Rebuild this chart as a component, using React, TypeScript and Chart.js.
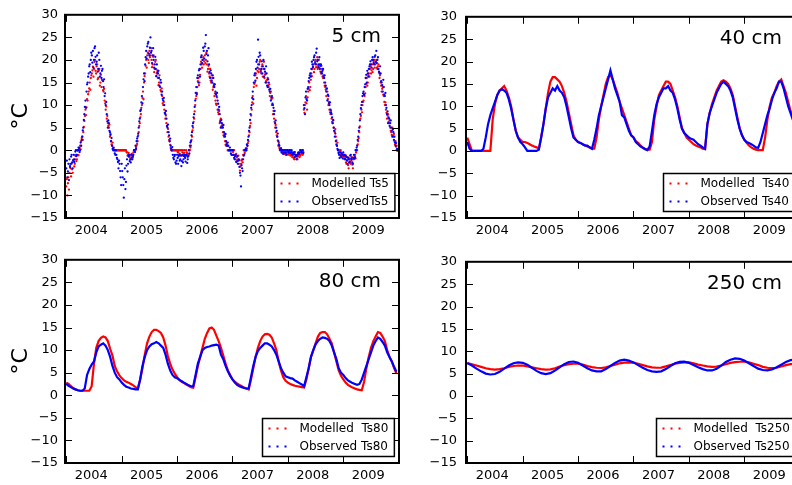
import React, { useEffect, useRef } from 'react';
import { Chart, registerables } from 'chart.js';

Chart.register(...registerables);

const FONT = '"DejaVu Sans", "Liberation Sans", sans-serif';

const X_MIN = 2003.977;
const X_MAX = 2010.005;
const YEAR_LABELS = ['2004', '2005', '2006', '2007', '2008', '2009'];
const YEAR_MARKS = [2004, 2005, 2006, 2007, 2008, 2009, 2010];
const Y_MIN = -15;
const Y_MAX = 30;
const Y_STEP = 5;

// ---- 5 cm, weekly samples (52 per year, from Jan 2004) ----
const TS5_MODELLED = [
  -8, -10, -6, -5, -4, -3, -5, -2, -3, -1, -2, 0, 0, 1, 2, 3, 4, 6.5, 9, 9.5, 11, 13, 15, 16, 17, 18.5, 18, 20, 17, 19, 16, 18, 15, 14, 15.5, 13, 11, 9, 7, 6, 5, 3, 2, 1, 0.5, 0, 0, 0, 0, 0, 0, 0,
  0, 0, 0, 0, 0, -0.5, -1, -1.5, -1, -2, -1, -0.5, 0, 0, 1, 2, 4, 6, 8, 10, 13, 15, 17, 20, 21, 20, 22, 21, 20, 19, 21, 18, 20, 17, 16, 15, 15, 13, 12, 10, 9, 7, 6, 4, 3, 2, 0.5, 0, 0, 0, 0, 0,
  0, -0.5, 0, -1, 0, -0.5, -1, 0, -1, -0.5, -1.5, -1, 0, 1, 3, 5, 7, 10, 12, 14, 16, 15, 18, 19, 20, 19, 21, 20, 19, 18, 17, 18, 15, 16, 14, 12, 11, 10, 9, 8, 6, 7, 5, 4, 3, 2, 1, 1, 0, 0, 0, 0,
  0, -1, -1, -2, -1.5, -2, -3, -4.5, -3, -2, -1, 0, 0, 0, 1, 2, 4, 6, 9, 12, 14, 15, 17, 16, 19, 18, 20, 17, 19, 18, 16, 17, 15, 16, 14, 12, 13, 10, 8, 7, 5, 4, 3, 1, 0.5, 0, 0, -0.5, 0, -0.5, -1, 0,
  -0.5, -1, -0.5, -1, -1.5, -1, -2, -1.5, -1, -2, -1, -1.5, -1, -0.5, -1, 9, 10, 12, 9, 13, 15, 14, 17, 18, 19, 18, 20, 19, 18, 20, 19, 17, 18, 16, 15, 14, 12, 13, 10, 9, 8, 7, 6, 5, 4, 3, 1, 0, 0, -1, -0.5, -1,
  -1, -2, -1, -3, -1.5, -4, -2, -3, -1.5, -4, -2, -1, -0.5, 0, 2, 4, 7, 9, 10, 11, 12, 14, 16, 15, 17, 18, 17, 19, 18, 20, 19, 20, 18, 19, 16, 15, 13, 14, 12, 10, 9, 7, 8, 6, 5, 4, 5, 3, 2, 2, 1, 0,
];
// mid-week samples of the same cloud
const TS5_MODELLED_MID = [
  -6.4, -7.3, -8.7, -3.4, -5.8, -4.2, -2.3, -3.6, -1.2, -2.4, 0, -1.1, 0.5, 0.2, 2.7, 2.3, 5.2, 7.6, 7.8, 11.3, 12.4, 13.7, 13.4, 16.6, 17.7, 16.3, 19.6, 17.6, 18.6, 15.7, 17.6, 14.3, 16.7, 15.6, 13.3, 13.6, 10.4, 9.7, 7.6, 5.4, 5.7, 3.6, 1.3, 1.7, 0.2, 0, 0, 0, 0, 0, 0, 0,
  0, 0, 0, 0, -0.4, -1.2, -0.6, -1.3, -1.8, -0.8, -1.6, 0, 0, 0.6, 1.4, 3.3, 5.4, 7.3, 9.4, 11.6, 11.3, 16.4, 18.7, 18.3, 21.6, 19.3, 20.6, 22.6, 18.4, 20.7, 17.3, 19.6, 16.4, 17.7, 14.4, 16.6, 13.3, 13.7, 10.4, 10.7, 8.3, 7.7, 5.3, 4.7, 2.3, 1.2, 0, 0, 0, 0, 0, 0,
  -0.4, 0, -0.8, 0, -1.2, 0, -0.6, -1.3, 0, -0.7, -1.2, 0, 0.6, 2.3, 4.4, 6.3, 8.6, 11.4, 12.7, 15.3, 14.4, 16.7, 19.6, 18.3, 20.6, 19.7, 19.3, 21.6, 17.4, 18.7, 16.3, 15.4, 16.6, 13.4, 14.7, 12.6, 10.3, 11.7, 8.4, 8.7, 6.6, 5.3, 5.6, 3.3, 3.7, 1.2, 1.6, 0, 0, 0, 0, 0,
  -0.4, 0, -1.3, -0.8, -2.3, -1.2, -2.2, -3.6, -2.3, -2.7, 0, -0.6, 0, 0.4, 1.6, 3.3, 5.4, 7.7, 10.6, 10.3, 14.7, 16.6, 14.3, 17.6, 17.3, 19.6, 17.7, 18.6, 16.3, 19.6, 16.7, 15.3, 15.6, 14.3, 14.6, 12.7, 11.3, 11.6, 8.7, 6.3, 5.6, 3.3, 2.2, 1.7, 0, 0.4, -0.4, 0, -0.8, 0, -0.6, -0.4,
  -0.8, -0.6, -1.2, -0.4, -1.1, -1.8, -0.9, -1.2, -1.8, -1.4, -0.9, -1.2, -0.6, -0.8, -0.4, 8.3, 10.6, 10.4, 11.7, 13.6, 13.3, 15.6, 16.4, 18.6, 17.3, 19.7, 18.4, 20.6, 18.7, 18.3, 17.4, 18.7, 16.3, 16.6, 14.3, 13.4, 13.6, 11.3, 10.7, 8.4, 8.7, 6.3, 6.6, 4.3, 4.7, 2.2, 1.7, 0, -0.4, 0, -0.9, -1.4,
  -1.4, -1.1, -2.7, -2.2, -3.3, -1.8, -2.8, -2.3, -3.2, -1.7, -1.2, -1.8, 0, 1.3, 2.7, 5.3, 7.6, 8.4, 10.7, 12.3, 12.6, 14.7, 14.3, 16.6, 16.3, 18.6, 17.7, 17.3, 19.6, 18.3, 19.4, 18.3, 18.6, 17.3, 16.6, 14.3, 13.6, 12.3, 10.7, 10.6, 8.3, 7.7, 6.3, 6.6, 4.3, 3.4, 3.2, 3.6, 1.3, 0.8, 0, 0,
];
const TS5_OBSERVED = [
  -4, -6, -3, -2, -3, -1, -4, -1, -2, 0, -1, 0, 0.5, 0, 1, 3, 5, 8, 11, 13, 15, 17, 19, 20, 21, 22, 20, 23, 19, 21, 18, 20, 17, 16, 18, 14, 12, 10, 8, 5, 6, 4, 2, 1, 0, 0, -1, -1, -2, -4, -3, -6,
  -3, -6, -10.5, -4, -7, -2, -3, -1, -2, -1, -2, -1, 0, 1, 2, 3, 5, 7, 9, 12, 14, 17, 19, 22, 23, 24, 21, 25, 22, 21, 20, 19, 18, 19, 17, 16, 14, 15, 13, 11, 10, 8, 7, 5, 4, 2, 1, 0, -1, -2, -1, -3,
  -1, -3, -1, -2, -3.5, -1, -2, -1, -2.5, -1, -2, 0, 1, 2, 4, 6, 8, 11, 14, 16, 15, 18, 19, 21, 20, 22, 23, 25.5, 22, 21, 19, 16, 17, 15, 16, 14, 13, 12, 11, 9, 8, 5, 6, 5, 4, 3, 2, 1, 1, 0, 0, -1,
  -1, -1, -2, -1, -2.5, -3, -2, -5, -8, -4, -2, -1, 0, 0, 1, 3, 5, 8, 10, 13, 15, 17, 18, 20, 24.5, 19, 21, 18, 17, 20, 18, 15, 17, 14, 15, 13, 11, 12, 10, 8, 6, 5, 3, 2, 1, 0, -0.5, 0, -0.5, 0, -0.5, -1,
  0, -0.5, 0, -0.5, -1, -0.5, -1.5, -1, -2, -1, -0.5, -0.5, 0, -0.5, 0, 10, 8, 13, 11, 14, 16, 17, 18, 19, 20, 21, 19, 22.5, 20, 19, 18, 19, 17, 18, 16, 15, 13, 11, 12, 10, 9, 8, 6, 5, 3, 2, 1, 0, -1, -0.5, -1.5, -1,
  -0.5, -1, -2, -1.5, -3, -2, -2.5, -1, -2, -3, -1, -1.5, 0, 1, 3, 5, 8, 10, 12, 13, 14, 16, 15, 17, 18, 19, 19, 20, 20, 19, 21, 22, 20, 18, 17, 17, 15, 13, 14, 12, 10, 8, 6, 7, 6, 5, 3, 4, 3, 1, 0, 0,
];
const TS5_OBSERVED_MID = [
  -2.3, -4.7, -6.6, -3.7, -1.4, -2.7, -2.2, -2.6, -0.3, -1.3, 0, 0.6, -0.4, 1.7, 2.3, 4.4, 6.7, 9.6, 9.4, 14.6, 16.3, 18.6, 17.3, 21.6, 19.4, 18.3, 22.6, 20.7, 19.6, 17.4, 21.6, 16.3, 18.7, 17.6, 15.3, 15.7, 12.6, 10.7, 6.4, 6.6, 4.3, 3.4, 2.7, 0.3, 0.6, -0.7, 0, -1.7, -2.6, -2.3, -4.6, -7.7,
  -4.6, -7.7, -6.4, -8.6, -3.4, -4.7, -1.3, -2.4, -2.7, -1.6, -1.3, 0, -0.4, 0.3, 2.6, 3.7, 6.4, 8.7, 10.6, 10.4, 15.7, 15.3, 20.6, 20.3, 23.6, 21.4, 22.7, 21.6, 19.3, 22.6, 18.3, 20.7, 16.4, 17.3, 17.6, 14.3, 15.6, 12.3, 11.4, 11.6, 8.3, 8.7, 5.4, 5.7, 3.3, 2.6, 0.3, 0.7, -1.7, -1.3, -2.7, -2.3,
  -1.7, -1.3, -2.3, -1.2, -2.4, -2.7, -1.3, -1.7, -1.2, -2.8, -1.3, -0.7, 1.7, 3.3, 5.4, 7.3, 9.6, 12.7, 12.4, 16.6, 17.7, 16.3, 20.6, 19.3, 22.7, 20.3, 23.6, 21.3, 19.7, 22.6, 17.3, 17.7, 15.4, 16.6, 14.3, 14.6, 12.4, 12.7, 10.3, 9.6, 6.3, 6.7, 5.3, 5.6, 3.3, 3.6, 1.3, 1.7, 0, 0.6, -0.7, 0,
  0, -1.7, -1.3, -2.6, -1.3, -2.3, -3.7, -5.6, -3.3, -4.6, -1.2, 0, 0.4, 1.3, 2.3, 4.3, 6.7, 9.4, 11.6, 11.3, 16.6, 15.4, 19.6, 18.3, 20.7, 21.6, 17.4, 19.7, 18.6, 16.3, 17.4, 18.6, 14.3, 15.7, 13.4, 13.6, 11.7, 10.3, 9.4, 8.7, 6.6, 4.3, 3.7, 1.3, 0.2, 0.4, 0, -0.8, 0, -0.6, 0, 0,
  -0.4, 0, -0.6, 0, -0.7, -0.8, -0.4, -1.3, -1.2, -0.6, -0.8, 0, -0.4, 0, -0.6, 9.3, 11.7, 11.3, 13.6, 15.3, 16.6, 16.3, 19.6, 18.4, 20.6, 19.3, 21.6, 19.7, 18.4, 20.6, 18.7, 17.3, 17.6, 16.4, 16.6, 14.3, 13.7, 12.3, 10.4, 10.6, 8.3, 7.3, 6.7, 4.3, 3.7, 1.3, 0.3, -0.6, -1.7, -1.2, -0.7, -1.8,
  -1.2, -1.8, -1.3, -2.3, -1.7, -2.7, -1.2, -1.8, -2.7, -1.7, -1.8, 0, 0.6, 2.3, 4.3, 6.6, 9.3, 10.7, 12.6, 12.3, 14.6, 16.7, 17.6, 16.3, 18.6, 19.7, 18.3, 20.6, 19.3, 20.7, 19.6, 19.3, 20.6, 17.4, 18.6, 15.3, 14.4, 15.6, 12.3, 12.7, 9.4, 8.6, 7.3, 5.4, 6.6, 4.3, 4.6, 2.3, 1.7, 1.6, 0.3, 0,
];

// ---- 40 cm, twice-monthly samples (24 per year) ----
const TS40_MODELLED = [
  3, 1.5, 0, 0, 0, 0, 0, 0, 0, 0, 0, 7, 10.5, 12.5, 13.5, 14, 14.5, 13.5, 12, 10, 7, 4.5, 3, 2.5,
  2, 2, 1.8, 1.5, 1.2, 1, 0.8, 0.5, 3, 6, 9.5, 13, 15.5, 16.5, 16.5, 16, 15.5, 14.5, 13, 11, 8.5, 6, 3.5, 2.5,
  2, 1.8, 1.5, 1.3, 1, 0.8, 0.5, 0.5, 3, 7, 10, 12.5, 15, 16.5, 17, 16, 14.5, 13, 11, 9.5, 8, 6.5, 5, 3.5,
  3, 2.2, 1.8, 1.2, 0.8, 0.5, 0.3, 0.3, 2, 7, 10, 12.5, 13.5, 14.5, 15.5, 15.5, 15, 13.5, 12, 10, 7.5, 5, 4, 3,
  2.5, 2, 1.5, 1.2, 1, 0.8, 0.5, 0.4, 6, 8.5, 10.5, 12, 13.5, 14.5, 15.5, 15.8, 15.5, 15, 14, 12.5, 10, 7.5, 5, 3.5,
  2.5, 1.8, 1.2, 0.8, 0.5, 0.3, 0.2, 0.2, 0.2, 3, 7, 10, 12, 13, 14.5, 15.5, 16, 14.5, 13, 11, 9, 7.5, 6.5, 6,
];
const TS40_OBSERVED = [
  2, 0.5, 0, 0, 0, 0, 0, 0.5, 3, 6, 8, 9.5, 11, 12.5, 13.5, 13.8, 13.5, 13, 11.5, 9.5, 7, 4.5, 3, 2,
  1.5, 0.8, 0, 0, 0, 0, 0, 0.3, 3, 6, 9.5, 12, 13, 14, 13.5, 14.5, 13.5, 13, 12, 10, 7.5, 5, 3, 2.5,
  2, 1.8, 1.5, 1.2, 1.2, 0.8, 0.5, 2.5, 5, 8, 10, 12, 14, 16, 18, 16, 14, 12.5, 11, 8, 7.5, 6, 4.5, 3.5,
  3, 2, 1.5, 1, 0.7, 0.4, 0.2, 1, 4.5, 8, 10.5, 12, 13, 14, 14, 14.5, 13.5, 13, 11.5, 9.5, 7, 5, 4, 3.5,
  3, 2.7, 2.5, 2, 1.5, 1.2, 0.8, 0.5, 6, 8.5, 10, 11.5, 13, 14, 15, 15.5, 15, 14.5, 13.5, 12, 9.5, 7, 5, 3.5,
  2.5, 2, 1.8, 1.5, 1.2, 0.8, 0.7, 2, 4, 6, 8, 9.5, 11.5, 13, 14, 15.5, 15.5, 14, 12, 10, 8.5, 7, 6.5, 6,
];

// ---- 80 cm, twice-monthly samples (24 per year) ----
const TS80_MODELLED = [
  2.8, 2.5, 2, 1.6, 1.3, 1.1, 1, 1, 1, 1, 1, 2, 7, 10.5, 12, 12.7, 13, 12.8, 12, 10.3, 8.8, 6.5, 5.3, 4.4,
  3.8, 3.3, 3, 2.8, 2.5, 2.2, 1.8, 1.5, 3.5, 6, 9, 11.5, 13, 14, 14.5, 14.5, 14.2, 13.8, 12.8, 11, 8.7, 7, 5.7, 4.8,
  4, 3.4, 3, 2.7, 2.4, 2.1, 1.8, 1.7, 4, 6.5, 8.5, 10.5, 12.5, 13.8, 14.8, 15, 14.5, 13.2, 12, 10.5, 8.8, 7, 5.5, 4.5,
  3.5, 3, 2.6, 2.3, 2, 1.7, 1.5, 1.3, 3.5, 6, 8.5, 10.5, 12, 13, 13.5, 13.6, 13.4, 12.8, 11.5, 10, 7.5, 5.5, 4, 3.2,
  2.8, 2.5, 2.3, 2.1, 2, 1.9, 1.8, 1.7, 3.5, 6, 8.5, 10, 11.5, 13, 13.8, 14, 14, 13.5, 12.5, 11.5, 9.5, 7.5, 5.5, 4.3,
  3.5, 2.8, 2.3, 2, 1.7, 1.5, 1.3, 1.2, 1.1, 3, 6, 8.5, 10.5, 12, 13, 14, 13.8, 13, 12, 10, 8.5, 7.5, 6, 4.8,
];
const TS80_OBSERVED = [
  2.5, 2.1, 1.8, 1.5, 1.3, 1.1, 1, 1, 1.5, 4.5, 5.8, 6.8, 7.5, 9.5, 10.8, 11.2, 11.5, 11, 10, 8.5, 6.5, 5, 4, 3.5,
  2.8, 2.3, 1.9, 1.7, 1.5, 1.4, 1.3, 1.3, 3.5, 6.5, 8.5, 10, 10.8, 11.3, 11.5, 11.8, 11.5, 11, 10.5, 9, 7, 5.5, 4.5, 4,
  3.8, 3.4, 3.1, 2.8, 2.5, 2.2, 2, 2, 4.5, 7, 8.5, 10, 10.5, 10.7, 10.8, 11, 11.1, 11.2, 11, 9, 8, 6.5, 5.3, 4.3,
  3.5, 2.8, 2.3, 2, 1.8, 1.6, 1.5, 1.5, 4, 6.5, 8.5, 9.8, 10.5, 11, 11.5, 11.5, 11.2, 10.8, 10, 9, 7.5, 6, 5, 4.2,
  4, 3.8, 3.7, 3.3, 3, 2.7, 2.4, 2, 4, 6, 8.5, 10, 11.3, 12, 12.5, 12.8, 12.7, 12.5, 12, 11, 9.5, 8, 6, 5,
  4.5, 3.8, 3.3, 3, 2.7, 2.5, 2.3, 2.5, 3.5, 5, 6.5, 8, 9.5, 11, 12, 12.8, 12.5, 11.8, 11, 9.5, 8.5, 7.5, 6.3, 5.2,
];

// ---- 250 cm, monthly samples (12 per year) ----
const TS250_MODELLED = [
  7.35, 7.1, 6.8, 6.5, 6.2, 6.0, 5.9, 6.0, 6.2, 6.5, 6.7, 6.8,
  6.8, 6.6, 6.4, 6.2, 6.0, 5.9, 5.95, 6.2, 6.6, 6.9, 7.1, 7.2,
  7.2, 7.0, 6.7, 6.45, 6.3, 6.25, 6.4, 6.7, 7.0, 7.3, 7.45, 7.5,
  7.45, 7.2, 6.9, 6.6, 6.4, 6.3, 6.35, 6.6, 6.9, 7.2, 7.4, 7.5,
  7.5, 7.3, 7.0, 6.8, 6.6, 6.5, 6.55, 6.8, 7.1, 7.4, 7.55, 7.65,
  7.65, 7.5, 7.2, 6.9, 6.5, 6.3, 6.2, 6.3, 6.6, 6.9, 7.1, 7.2, 7.2,
];
const TS250_OBSERVED = [
  7.35, 6.8, 6.1, 5.5, 5.0, 4.8, 4.9, 5.4, 6.1, 6.8, 7.3, 7.5,
  7.4, 7.0, 6.3, 5.6, 5.1, 4.9, 5.1, 5.7, 6.4, 7.1, 7.6, 7.7,
  7.4, 6.8, 6.2, 5.7, 5.5, 5.5, 6.0, 6.7, 7.4, 7.9, 8.1, 7.9,
  7.5, 6.9, 6.3, 5.8, 5.5, 5.4, 5.5, 6.0, 6.7, 7.3, 7.6, 7.65,
  7.4, 6.9, 6.4, 6.0, 5.7, 5.7, 6.1, 6.8, 7.6, 8.1, 8.4, 8.3,
  7.9, 7.3, 6.7, 6.1, 5.8, 5.7, 5.9, 6.4, 7.0, 7.6, 8.0, 8.1, 8.1,
];

const RED = '#ff0000';
const BLUE = '#0000ff';

function toPoints(values: number[], perYear: number, shift = 0) {
  return values.map((v, i) => ({ x: 2004 + (i + shift) / perYear, y: v }));
}

type LegendItem = { label: string; color: string };

const framePlugin = {
  id: 'mplFrame',
  afterDraw(chart: any, _args: any, opts: any) {
    const { ctx, chartArea: a, scales } = chart;
    const xs = scales.x;
    const ys = scales.y;
    ctx.save();
    ctx.strokeStyle = '#000';
    ctx.lineWidth = 1;
    ctx.beginPath();
    YEAR_MARKS.forEach((yr) => {
      const px = Math.round(xs.getPixelForValue(yr)) + 0.5;
      if (px <= a.left + 1 || px >= a.right - 1) return;
      ctx.moveTo(px, a.bottom);
      ctx.lineTo(px, a.bottom - 7);
      ctx.moveTo(px, a.top);
      ctx.lineTo(px, a.top + 7);
    });
    for (let v = Y_MIN + Y_STEP; v < Y_MAX; v += Y_STEP) {
      const py = Math.round(ys.getPixelForValue(v)) + 0.5;
      ctx.moveTo(a.left, py);
      ctx.lineTo(a.left + 7, py);
      ctx.moveTo(a.right, py);
      ctx.lineTo(a.right - 7, py);
    }
    ctx.stroke();
    ctx.lineWidth = 2;
    ctx.strokeRect(a.left, a.top, a.right - a.left, a.bottom - a.top);
    ctx.fillStyle = '#000';
    ctx.font = `20px ${FONT}`;
    ctx.textAlign = 'right';
    ctx.textBaseline = 'alphabetic';
    ctx.fillText(opts.title, a.right - 18, a.top + 27);
    const items: LegendItem[] = opts.legend;
    ctx.font = `12px ${FONT}`;
    const tw = Math.max(...items.map((it) => ctx.measureText(it.label).width));
    const bw = 37 + tw + 6;
    const bh = 38;
    const bx = Math.round(a.right - 5 - bw) + 0.5;
    const by = Math.round(a.bottom - 7 - bh) + 0.5;
    ctx.fillStyle = '#fff';
    ctx.fillRect(bx, by, bw, bh);
    ctx.lineWidth = 1.5;
    ctx.strokeStyle = '#000';
    ctx.strokeRect(bx, by, bw, bh);
    items.forEach((it, i) => {
      const cy = by + 10 + i * 18;
      ctx.fillStyle = it.color;
      [7, 15, 23].forEach((dx) => {
        ctx.fillRect(bx + dx - 1, cy - 1, 2, 2);
      });
      ctx.fillStyle = '#000';
      ctx.textAlign = 'left';
      ctx.textBaseline = 'middle';
      ctx.fillText(it.label, bx + 37, cy);
    });
    ctx.restore();
  },
};

type PanelProps = {
  left: number;
  top: number;
  width: number;
  height: number;
  area: { l: number; t: number; r: number; b: number };
  title: string;
  legend: LegendItem[];
  showYTitle: boolean;
  scatter: boolean;
  modelled: { x: number; y: number }[];
  observed: { x: number; y: number }[];
};

function Panel(p: PanelProps) {
  const ref = useRef<HTMLCanvasElement | null>(null);
  useEffect(() => {
    if (!ref.current) return;
    const mk = (data: any[], color: string) =>
      p.scatter
        ? {
            data,
            showLine: false,
            pointRadius: 1.15,
            pointBorderWidth: 0,
            pointBackgroundColor: color,
            borderColor: color,
          }
        : {
            data,
            borderColor: color,
            borderWidth: 2.2,
            pointRadius: 0,
            tension: 0,
            fill: false,
          };
    const chart = new Chart(ref.current, {
      type: 'line',
      data: {
        datasets: [mk(p.observed, BLUE), mk(p.modelled, RED)],
      },
      plugins: [framePlugin as any],
      options: {
        animation: false,
        responsive: false,
        events: [],
        layout: {
          padding: { left: 0, top: p.area.t, right: p.width - p.area.r, bottom: 0 },
        },
        plugins: {
          legend: { display: false },
          tooltip: { enabled: false },
          mplFrame: { title: p.title, legend: p.legend },
        } as any,
        scales: {
          x: {
            type: 'linear',
            min: X_MIN,
            max: X_MAX,
            grid: { display: false, drawTicks: false },
            border: { display: false },
            afterBuildTicks: (s: any) => {
              s.ticks = YEAR_LABELS.map((l) => ({ value: Number(l) + 0.45 }));
            },
            afterFit: (s: any) => {
              s.height = p.height - p.area.b;
            },
            ticks: {
              autoSkip: false,
              maxRotation: 0,
              minRotation: 0,
              padding: 5,
              color: '#000',
              font: { size: 13, family: FONT },
              callback: (v: any) => String(Math.floor(Number(v))),
            },
          },
          y: {
            type: 'linear',
            min: Y_MIN,
            max: Y_MAX,
            grid: { display: false, drawTicks: false },
            border: { display: false },
            afterFit: (s: any) => {
              s.width = p.area.l;
            },
            ticks: {
              stepSize: Y_STEP,
              autoSkip: false,
              padding: p.showYTitle ? 7 : 9,
              color: '#000',
              font: { size: 13, family: FONT },
              callback: (v: any) => (Number(v) < 0 ? '\u2212' + Math.abs(Number(v)) : String(v)),
            },
            title: {
              display: p.showYTitle,
              text: '°C',
              color: '#000',
              font: { size: 22, family: FONT },
              padding: { top: 8, bottom: 0 },
            },
          },
        },
      } as any,
    });
    return () => chart.destroy();
  }, []);
  return (
    <canvas
      ref={ref}
      width={p.width}
      height={p.height}
      style={{ position: 'absolute', left: p.left, top: p.top, width: p.width, height: p.height }}
    />
  );
}

export default function App() {
  return (
    <div
      style={{
        position: 'absolute',
        left: 0,
        top: 0,
        width: 792,
        height: 485,
        overflow: 'hidden',
        background: '#fff',
      }}
    >
      <Panel
        left={0}
        top={0}
        width={410}
        height={245}
        area={{ l: 65, t: 14, r: 399, b: 218 }}
        title="5 cm"
        legend={[
          { label: 'Modelled Ts5', color: RED },
          { label: 'ObservedTs5', color: BLUE },
        ]}
        showYTitle={true}
        scatter={true}
        modelled={[...toPoints(TS5_MODELLED, 52), ...toPoints(TS5_MODELLED_MID, 52, 0.5)]}
        observed={[...toPoints(TS5_OBSERVED, 52), ...toPoints(TS5_OBSERVED_MID, 52, 0.5)]}
      />
      <Panel
        left={400}
        top={0}
        width={420}
        height={245}
        area={{ l: 66, t: 14, r: 400, b: 218 }}
        title="40 cm"
        legend={[
          { label: 'Modelled  Ts40', color: RED },
          { label: 'Observed Ts40', color: BLUE },
        ]}
        showYTitle={false}
        scatter={false}
        modelled={toPoints(TS40_MODELLED, 24)}
        observed={toPoints(TS40_OBSERVED, 24)}
      />
      <Panel
        left={0}
        top={245}
        width={410}
        height={240}
        area={{ l: 65, t: 14, r: 399, b: 218 }}
        title="80 cm"
        legend={[
          { label: 'Modelled  Ts80', color: RED },
          { label: 'Observed Ts80', color: BLUE },
        ]}
        showYTitle={true}
        scatter={false}
        modelled={toPoints(TS80_MODELLED, 24)}
        observed={toPoints(TS80_OBSERVED, 24)}
      />
      <Panel
        left={400}
        top={245}
        width={420}
        height={240}
        area={{ l: 66, t: 14, r: 400, b: 218 }}
        title="250 cm"
        legend={[
          { label: 'Modelled  Ts250', color: RED },
          { label: 'Observed Ts250', color: BLUE },
        ]}
        showYTitle={false}
        scatter={false}
        modelled={toPoints(TS250_MODELLED, 12)}
        observed={toPoints(TS250_OBSERVED, 12)}
      />
    </div>
  );
}
